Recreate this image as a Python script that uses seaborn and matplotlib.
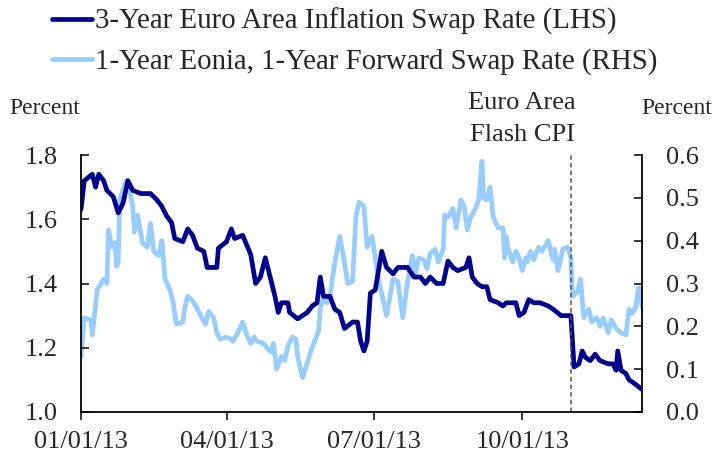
import pandas as pd
import seaborn as sns
import matplotlib.pyplot as plt
import matplotlib.dates as mdates

# --- DATI ---
# giorni dal 01/01/13
giorni_inflazione = [0, 2, 7, 9, 11, 14, 16, 20, 23, 26, 29, 32, 37, 43, 47, 50, 53, 56, 58, 63,
                     66, 69, 72, 76, 78, 84, 85, 90, 93, 95, 100, 105, 108, 111, 114, 117, 120,
                     122, 124, 128, 129, 134, 140, 143, 146, 148, 150, 154, 157, 160, 163, 168,
                     171, 173, 175, 177, 179, 182, 184, 186, 189, 193, 196, 199, 202, 206, 210,
                     213, 216, 220, 224, 227, 230, 233, 238, 240, 242, 245, 248, 251, 253, 258,
                     261, 263, 266, 269, 271, 274, 277, 280, 284, 289, 292, 297, 303, 305, 308,
                     310, 312, 315, 318, 321, 326, 329, 331, 332, 334, 337, 339, 342, 347]
swap_inflazione = [1.63, 1.72, 1.74, 1.70, 1.74, 1.72, 1.69, 1.67, 1.62, 1.65, 1.72, 1.69, 1.68,
                   1.68, 1.66, 1.64, 1.61, 1.59, 1.54, 1.53, 1.57, 1.55, 1.51, 1.50, 1.45, 1.45,
                   1.51, 1.53, 1.57, 1.54, 1.55, 1.49, 1.40, 1.42, 1.48, 1.42, 1.36, 1.31, 1.34,
                   1.34, 1.31, 1.29, 1.31, 1.33, 1.34, 1.42, 1.36, 1.36, 1.32, 1.31, 1.26, 1.28,
                   1.28, 1.22, 1.19, 1.22, 1.37, 1.38, 1.44, 1.50, 1.45, 1.43, 1.45, 1.45, 1.45,
                   1.42, 1.42, 1.40, 1.42, 1.40, 1.40, 1.47, 1.45, 1.44, 1.45, 1.48, 1.42, 1.40,
                   1.39, 1.39, 1.35, 1.34, 1.33, 1.34, 1.34, 1.34, 1.30, 1.31, 1.35, 1.34, 1.34,
                   1.33, 1.32, 1.30, 1.30, 1.14, 1.15, 1.19, 1.17, 1.16, 1.18, 1.16, 1.15, 1.15,
                   1.13, 1.19, 1.13, 1.12, 1.10, 1.09, 1.07]

giorni_eonia = [0, 2, 6, 7, 10, 14, 16, 17, 19, 21, 22, 23, 24, 26, 28, 30, 32, 33, 35, 38, 41,
                43, 45, 48, 50, 52, 55, 57, 59, 63, 64, 66, 69, 72, 74, 77, 79, 82, 84, 86, 90,
                93, 94, 97, 100, 103, 105, 107, 109, 113, 116, 118, 119, 121, 124, 126, 128, 131,
                133, 134, 137, 140, 142, 145, 147, 148, 150, 152, 154, 157, 160, 162, 165, 168,
                170, 172, 175, 177, 180, 182, 184, 189, 193, 196, 199, 201, 202, 205, 207, 209,
                212, 214, 216, 219, 221, 224, 225, 227, 230, 232, 235, 237, 239, 241, 244, 246,
                248, 249, 251, 253, 255, 258, 261, 262, 263, 264, 267, 269, 271, 273, 275, 276,
                278, 280, 283, 285, 289, 292, 293, 295, 298, 301, 303, 304, 307, 309, 311, 314,
                316, 319, 321, 323, 326, 328, 331, 334, 337, 339, 341, 343, 345, 347]
swap_eonia = [0.13, 0.22, 0.215, 0.18, 0.285, 0.31, 0.30, 0.425, 0.385, 0.395, 0.34, 0.35, 0.495,
              0.52, 0.54, 0.52, 0.48, 0.42, 0.46, 0.395, 0.385, 0.44, 0.375, 0.365, 0.40, 0.31,
              0.285, 0.255, 0.205, 0.21, 0.24, 0.27, 0.26, 0.24, 0.225, 0.205, 0.235, 0.22, 0.185,
              0.17, 0.175, 0.17, 0.165, 0.185, 0.21, 0.175, 0.16, 0.175, 0.165, 0.16, 0.145, 0.14,
              0.16, 0.10, 0.13, 0.12, 0.155, 0.175, 0.17, 0.13, 0.08, 0.115, 0.14, 0.17, 0.19,
              0.24, 0.27, 0.255, 0.27, 0.35, 0.41, 0.37, 0.30, 0.305, 0.455, 0.49, 0.48, 0.385,
              0.41, 0.36, 0.31, 0.225, 0.31, 0.305, 0.22, 0.275, 0.305, 0.365, 0.325, 0.36, 0.355,
              0.335, 0.37, 0.38, 0.35, 0.38, 0.46, 0.455, 0.475, 0.43, 0.495, 0.48, 0.425, 0.455,
              0.475, 0.495, 0.585, 0.50, 0.495, 0.525, 0.455, 0.43, 0.43, 0.36, 0.41, 0.385, 0.35,
              0.375, 0.36, 0.33, 0.36, 0.35, 0.375, 0.355, 0.385, 0.375, 0.40, 0.355, 0.38, 0.33,
              0.38, 0.385, 0.36, 0.27, 0.28, 0.31, 0.22, 0.24, 0.21, 0.22, 0.20, 0.22, 0.185,
              0.215, 0.195, 0.185, 0.18, 0.24, 0.23, 0.245, 0.29, 0.245]

data_inizio = pd.Timestamp('2013-01-01')
data_cpi = pd.Timestamp('2013-10-31')
date_tick = ['2013-01-01', '2013-04-01', '2013-07-01', '2013-10-01']
etichetta_lhs = '3-Year Euro Area Inflation Swap Rate (LHS)'
etichetta_rhs = '1-Year Eonia, 1-Year Forward Swap Rate (RHS)'

df_lhs = pd.DataFrame({'Data': data_inizio + pd.to_timedelta(giorni_inflazione, unit='D'),
                       'Valore': swap_inflazione})
df_rhs = pd.DataFrame({'Data': data_inizio + pd.to_timedelta(giorni_eonia, unit='D'),
                       'Valore': swap_eonia})

# --- STILE ---
sns.set_style('white')
plt.rcParams['font.family'] = ['Liberation Serif', 'DejaVu Serif']
plt.rcParams['font.size'] = 19

colore_scuro = '#00008C'
colore_chiaro = '#99CCFF'

fig = plt.figure(figsize=(7.15, 4.57), dpi=100)
ax = fig.add_axes([81 / 715, 1 - 412 / 457, (642 - 81) / 715, (412 - 155) / 457])
ax2 = ax.twinx()

sns.lineplot(data=df_rhs, x='Data', y='Valore', ax=ax2, color=colore_chiaro, linewidth=3.4,
             label=etichetta_rhs, legend=False)
sns.lineplot(data=df_lhs, x='Data', y='Valore', ax=ax, color=colore_scuro, linewidth=3.4,
             label=etichetta_lhs, legend=False)
# la serie LHS deve stare sopra
ax.set_zorder(ax2.get_zorder() + 1)
ax.patch.set_visible(False)

ax.axvline(data_cpi, color='#555555', linestyle='--', linewidth=1.1, dashes=(3, 2))

ax.set_xlim(data_inizio, data_inizio + pd.Timedelta(days=347))
ax.set_ylim(1.0, 1.8)
ax2.set_ylim(0.0, 0.6)
ax.set_yticks([1.0, 1.2, 1.4, 1.6, 1.8])
ax2.set_yticks([0.0, 0.1, 0.2, 0.3, 0.4, 0.5, 0.6])
ax.set_xticks(pd.to_datetime(date_tick))
ax.xaxis.set_major_formatter(mdates.DateFormatter('%m/%d/%y'))
ax.set_xlabel('')
ax.set_ylabel('')
ax2.set_ylabel('')

for a in (ax, ax2):
    for lato in ['left', 'right', 'bottom', 'top']:
        a.spines[lato].set_color('black')
        a.spines[lato].set_linewidth(1.3)
    a.spines['top'].set_visible(False)
ax.spines['right'].set_visible(False)
ax2.spines['left'].set_visible(False)
ax2.spines['bottom'].set_visible(False)

ax.tick_params(axis='y', direction='in', length=6, width=1.3, pad=17, left=True)
ax2.tick_params(axis='y', direction='in', length=6, width=1.3, pad=17, right=True)
ax.tick_params(axis='x', direction='out', length=6, width=1.3, pad=8, bottom=True)

fig.text(45 / 715, 1 - 108 / 457, 'Percent', ha='center', va='center', fontsize=17)
fig.text(677 / 715, 1 - 108 / 457, 'Percent', ha='center', va='center', fontsize=17)
fig.text(522 / 715, 1 - 119 / 457, 'Euro Area\nFlash CPI', ha='center', va='center',
         linespacing=1.55)

fig.legend(handles=[ax.lines[0], ax2.lines[0]], labels=[etichetta_lhs, etichetta_rhs],
           loc='upper left', bbox_to_anchor=(52 / 715, 1 - 8 / 457), frameon=False,
           borderpad=0, borderaxespad=0, handlelength=1.4, handletextpad=0.1,
           labelspacing=0.45, fontsize=20.8)

plt.savefig('out.png', dpi=100)
